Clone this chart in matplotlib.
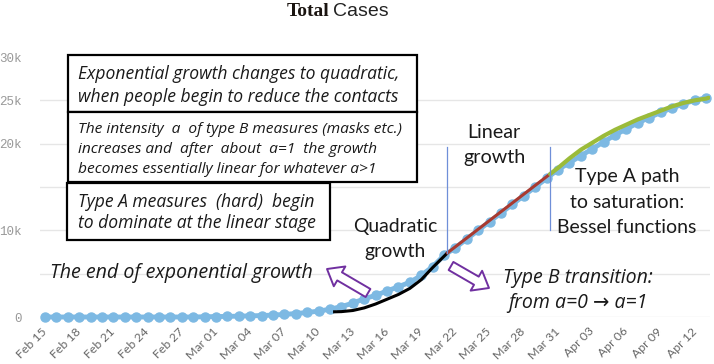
import matplotlib.pyplot as plt
from matplotlib.patches import Rectangle

W, H = 714, 364

# day 0 = Feb 15 (2020); values in thousands
tick_days = list(range(0, 58, 3))
tick_labels = ['Feb 15', 'Feb 18', 'Feb 21', 'Feb 24', 'Feb 27', 'Mar 01', 'Mar 04',
               'Mar 07', 'Mar 10', 'Mar 13', 'Mar 16', 'Mar 19', 'Mar 22', 'Mar 25',
               'Mar 28', 'Mar 31', 'Apr 03', 'Apr 06', 'Apr 09', 'Apr 12']
cases = [0, 0, 0, 0, 0, 0, 0, 0, 0, 0, 0, 0, 0, 0,
         0.03, 0.05, 0.07, 0.1, 0.13, 0.17, 0.22, 0.3, 0.4, 0.52, 0.68,
         0.9, 1.2, 1.6, 2.1, 2.5, 3.0, 3.5, 4.0, 4.8, 5.8, 7.1,
         8.0, 9.0, 10.0, 11.0, 12.0, 13.0, 14.0, 15.0, 16.0, 17.0,
         17.8, 18.6, 19.4, 20.2, 21.0, 21.7, 22.4, 23.0, 23.6, 24.1, 24.6, 25.0, 25.3]
days = list(range(len(cases)))

quad_days = [25.4, 26, 27, 28, 29, 30, 31, 32, 33, 34, 35.3]
quad_vals = [0.6, 0.62, 0.75, 1.05, 1.5, 2.05, 2.6, 3.3, 4.3, 5.7, 7.4]
lin_days = [35.3, 44.3]
lin_vals = [7.4, 16.5]
sat_days = [44.3, 45, 46, 47, 48, 49, 50, 51, 52, 53, 54, 55, 56, 57, 58, 58.2]
sat_vals = [16.5, 17.2, 18.3, 19.3, 20.1, 20.9, 21.6, 22.2, 22.8, 23.3, 23.8,
            24.3, 24.7, 25.0, 25.2, 25.3]

yticks = [0, 5, 10, 15, 20, 25, 30]
ytick_labels = ['0', '', '10k', '', '20k', '25k', '30k']

fig = plt.figure(figsize=(W / 100, H / 100), dpi=100)
ax = fig.add_axes([40 / W, 47 / H, 670 / W, 260 / H])

ax.plot(days, cases, '-o', color='#7db9e3', lw=3.5, ms=6.5, clip_on=False, zorder=2)
ax.plot(quad_days, quad_vals, color='black', lw=2.2, zorder=3)
ax.plot(lin_days, lin_vals, color='#a93a30', lw=2.2, zorder=3)
ax.plot(sat_days, sat_vals, color='#9bbb3a', lw=3, solid_capstyle='round', zorder=3)

# stage boundaries
ax.plot([35.3, 35.3], [7.4, 19.6], color='#6f8fd8', lw=0.9, zorder=4)
ax.plot([44.3, 44.3], [10, 19.6], color='#6f8fd8', lw=0.9, zorder=4)

ax.set_xlim(-0.44, 58.33)
ax.set_ylim(0, 30)
ax.set_xticks(tick_days)
ax.set_xticklabels(tick_labels, rotation=45, ha='right', va='center',
                   rotation_mode='anchor', family='Lato', fontsize=8.8, color='#666666')
ax.set_yticks(yticks)
ax.set_yticklabels(ytick_labels, family='Liberation Mono', fontsize=9, color='#999999')
ax.tick_params(axis='x', length=0, pad=9)
ax.tick_params(axis='y', length=0, pad=13)
ax.grid(axis='y', color='#e6e6e6', lw=1)
ax.yaxis.get_gridlines()[-1].set_visible(False)
for s in ax.spines.values():
    s.set_visible(False)


def fp(x, y):
    return x / W, 1 - y / H


renderer = fig.canvas.get_renderer()


def fit(texts, target):
    # scale a group of text lines so the first one spans target pixels
    w = texts[0].get_window_extent(renderer).width
    for t in texts:
        t.set_fontsize(t.get_fontsize() * target / w)


# title
fig.text(*fp(287, 16), 'Total', family='Liberation Serif', weight='bold',
         fontsize=14, color='#1a1410', va='baseline')
fig.text(*fp(333, 16), 'Cases', family='Liberation Sans', fontsize=14,
         color='#222222', va='baseline')

# boxes
for x0, y0, x1, y1 in [(68, 55, 417, 112), (68, 112, 417, 182), (67, 183, 330, 240)]:
    fig.add_artist(Rectangle(fp(x0, y1), (x1 - x0) / W, (y1 - y0) / H,
                             transform=fig.transFigure, fc='white', ec='black', lw=1.6))

ifam = ['Open Sans', 'DejaVu Sans']
fam = ['Lato', 'DejaVu Sans']
tc = '#1a1a1a'


def lines(x, y0, step, texts, family, style='normal', ha='left'):
    return [fig.text(*fp(x, y0 + step * i), t, family=family, style=style, fontsize=12,
                     color=tc, ha=ha, va='baseline') for i, t in enumerate(texts)]


box1 = lines(78, 79, 23, ['Exponential growth changes to quadratic,',
                          'when people begin to reduce the contacts'], ifam, 'italic')
fit(box1, 322)
box2 = lines(78, 133, 20, ['The intensity  a  of type B measures (masks etc.)',
                           'increases and  after  about  a=1  the growth',
                           'becomes essentially linear for whatever a>1'], ifam, 'italic')
fit(box2, 324)
box3 = lines(78, 207, 21, ['Type A measures  (hard)  begin',
                           'to dominate at the linear stage'], ifam, 'italic')
fit(box3, 237)
end_exp = lines(50, 278, 0, ['The end of exponential growth'], ifam, 'italic')
fit(end_exp, 263)
type_b = lines(578, 283, 25, ['Type B transition:', 'from a=0 \u2192 a=1'], ifam, 'italic', 'center')
fit(type_b, 150)

quad = lines(395, 232, 25, ['Quadratic', 'growth'], fam, ha='center')
fit(quad, 84)
lin = lines(494, 163, -25, ['growth', 'Linear'], fam, ha='center')
fit(lin, 62)
sat = lines(627, 233, -25.5, ['Bessel functions', 'to saturation:', 'Type A path'], fam, ha='center')
fit(sat, 140)

# hollow purple arrows
for (x0, y0), (x1, y1) in [((368, 293), (327, 269)), ((451, 266), (489, 288))]:
    ax.annotate('', xy=(x1, H - y1), xytext=(x0, H - y0), xycoords='figure pixels',
                textcoords='figure pixels',
                arrowprops=dict(arrowstyle='simple,head_length=0.7,head_width=1.1,tail_width=0.45',
                                fc='white', ec='#7030a0', lw=1.4, mutation_scale=15,
                                shrinkA=0, shrinkB=0))

fig.savefig('out.png', dpi=100)
